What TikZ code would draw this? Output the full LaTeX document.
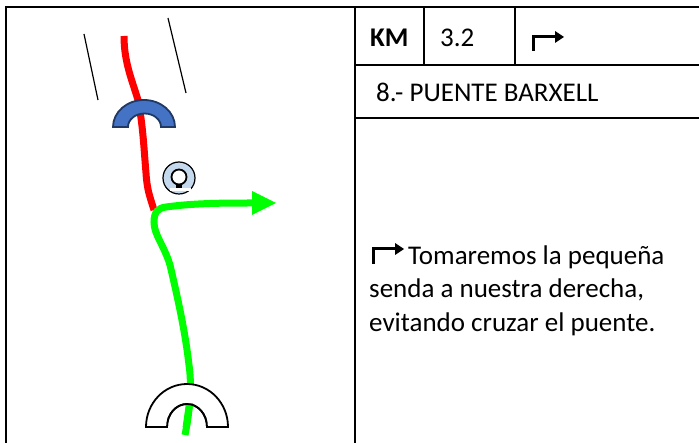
\documentclass[tikz,border=0pt]{standalone}
\usepackage{fontspec}
\setmainfont{Carlito}
\usepackage{tikz}
\usetikzlibrary{
  	positioning,
  	arrows.meta,
  	calc
  }
\definecolor{bridgeblue}{HTML}{4472C4}
\definecolor{bridgeedge}{HTML}{1F3864}
\definecolor{pointblue}{HTML}{C5D9EE}
\tikzstyle{frame}=[draw=black,line width=2.4pt]
\tikzstyle{txt}=[inner sep=0pt,anchor=base west,font=\fontsize{27}{31}\selectfont]
\tikzstyle{redpath}=[draw=red,line width=7pt]
\tikzstyle{greenpath}=[draw=green,line width=7pt]
\tikzstyle{turn}=[line width=3pt]
\tikzstyle{bridge}=[line width=1.8pt,line join=miter]

\begin{document}
\begin{tikzpicture}[x=1pt,y=-1pt]
	\useasboundingbox (0,0) rectangle (699,443);
	% table
	\draw [frame] (6,443) -- (6,7) -- (699,7);
	\draw [frame] (355,7) -- (355,443);
	\draw [frame] (355,65) -- (699,65);
	\draw [frame] (355,118) -- (699,118);
	\draw [frame] (424,7) -- (424,65);
	\draw [frame] (515,7) -- (515,65);
%
	\node[txt,font=\fontsize{27}{31}\selectfont\bfseries] at (370,47) (km) {KM};
	\node[txt] at (440,47) (kmval) {3.2};
	\node[txt] at (376,102) (title) {8.- PUENTE BARXELL};
	\node[txt] at (408,265) (line1) {Tomaremos la pequeña};
	\node[txt] at (369,298) (line2) {senda a nuestra derecha,};
	\node[txt] at (369,332) (line3) {evitando cruzar el puente.};
%
	% turn signs
	\draw [turn] (533,51) -- (533,37) -- (556,37);
	\fill (555,31) -- (564,37) -- (555,43) -- cycle;
	\draw [turn] (373,264) -- (373,249) -- (396,249);
	\fill (395,243) -- (404,249) -- (395,255) -- cycle;
%
	% road sides
	\draw [line width=1.2pt] (84,34) -- (98,100);
	\draw [line width=1.2pt] (168,18) -- (186,93);
%
	% route
	\draw [redpath] (124,36) .. controls (124,62) and (132,80) .. (138,100)
		.. controls (143,125) and (144,150) .. (146,173)
		.. controls (147,190) and (150,197) .. (154,210);
	\draw [greenpath] (185,435) .. controls (190,410) and (192,385) .. (189,365)
		.. controls (185,330) and (177,295) .. (170,265)
		.. controls (164,245) and (154,235) .. (154,222)
		.. controls (154,212) and (158,208) .. (166,207)
		.. controls (195,203) and (225,203) .. (254,203);
	\fill [green] (252,191) -- (276,203) -- (252,215) -- cycle;
%
	% bridges
	\draw [bridge,draw=bridgeedge,fill=bridgeblue]
		(113,127) arc[start angle=180,end angle=360,x radius=31,y radius=27] --
		(161,127) arc[start angle=360,end angle=180,x radius=16.5,y radius=13.5] -- cycle;
	\draw [bridge,draw=black,fill=white]
		(146,427) arc[start angle=180,end angle=360,x radius=41,y radius=43] --
		(207,427) arc[start angle=360,end angle=180,x radius=20,y radius=23] -- cycle;
	\begin{scope}
		\clip (167,404) rectangle (207,427);
		\draw [draw=green,line width=7pt] (190,400) -- (185,435);
		\draw [bridge,draw=black] (207,427) arc[start angle=360,end angle=180,x radius=20,y radius=23];
	\end{scope}
%
	% point of interest
	\node[circle,draw=black,fill=pointblue,line width=1.2pt,minimum size=32pt,inner sep=0pt] at (179,178) (poi) {};
	\fill [white] (170,188) rectangle (191,191);
	\node[circle,draw=black,fill=white,line width=1.8pt,minimum size=15pt,inner sep=0pt] at (179,177) (poiin) {};
	\fill (176,185) rectangle (182,188.5);
\end{tikzpicture}
\end{document}
